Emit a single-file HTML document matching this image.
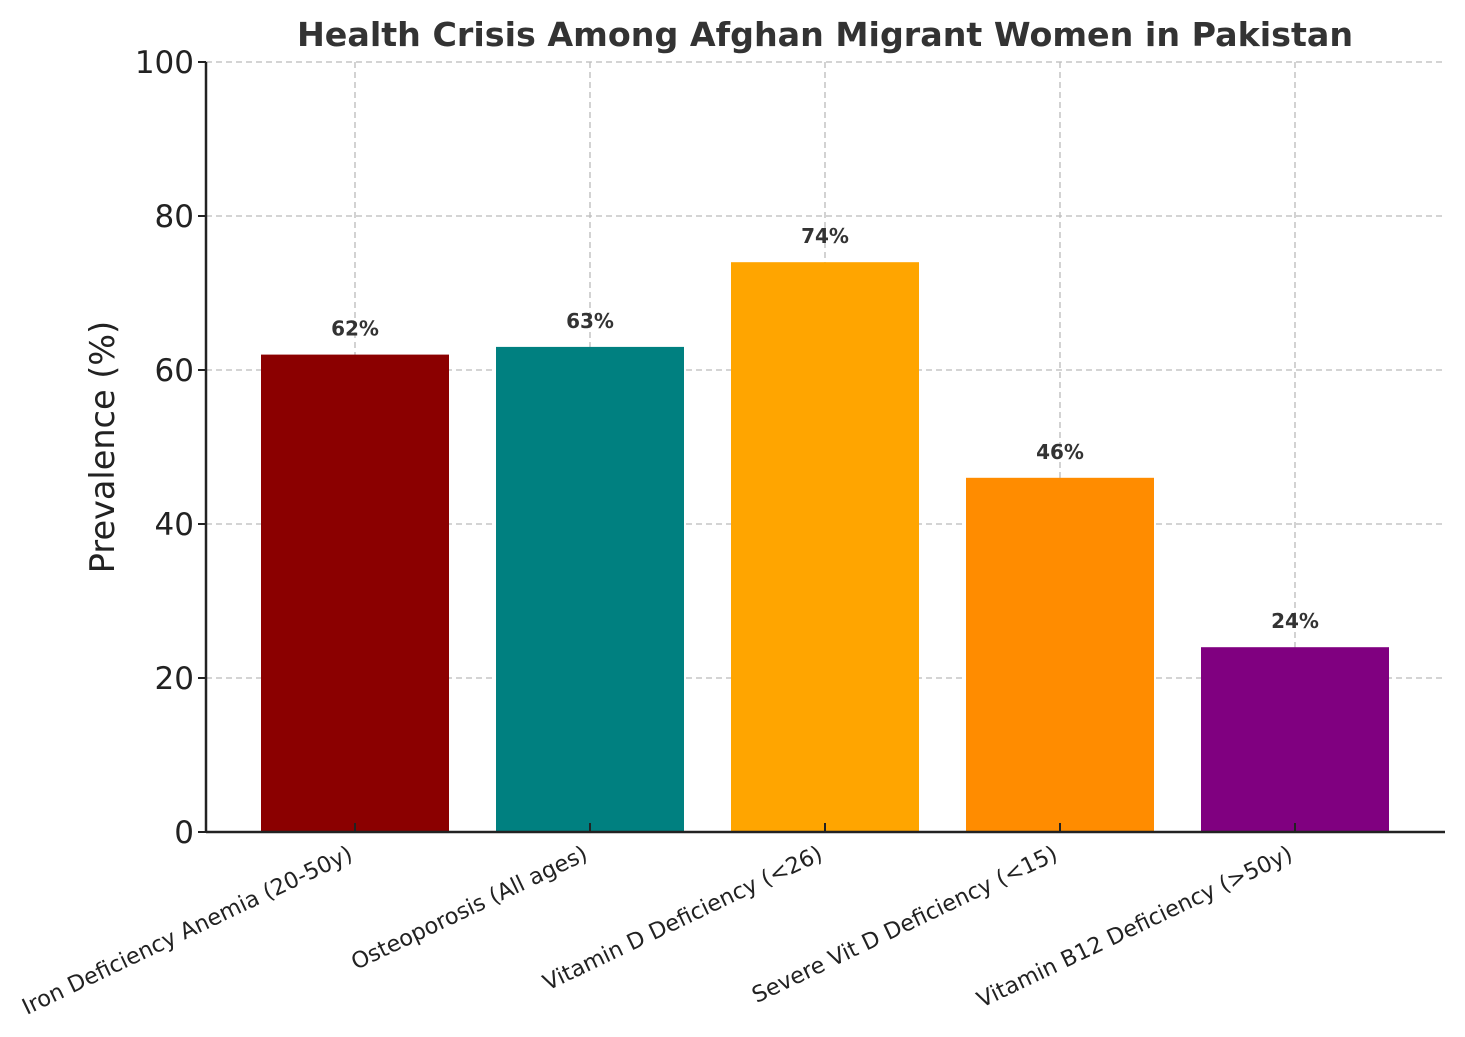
<!DOCTYPE html>
<html><head><meta charset="utf-8"><style>
body{margin:0;background:#fff}
svg text{font-family:"DejaVu Sans","Liberation Sans",sans-serif}
</style></head><body>
<svg id="chart" width="1465" height="1032" viewBox="0 0 1465 1032" xmlns="http://www.w3.org/2000/svg">
<rect width="1465" height="1032" fill="#fff"/>
<text x="825" y="46" text-anchor="middle" font-size="33.3" font-weight="bold" fill="#333">Health Crisis Among Afghan Migrant Women in Pakistan</text>
<text transform="translate(114,447) rotate(-90)" text-anchor="middle" font-size="33.5" fill="#222">Prevalence (%)</text>
<g id="grid"></g><g id="bars"></g><g id="axes"></g>
</svg>
<script>
const categories=["Iron Deficiency Anemia (20-50y)","Osteoporosis (All ages)","Vitamin D Deficiency (<26)","Severe Vit D Deficiency (<15)","Vitamin B12 Deficiency (>50y)"];
const values=[62,63,74,46,24];
const colors=["#8b0000","#008080","#ffa500","#ff8c00","#800080"];
const yTicks=[0,20,40,60,80,100];
const NS="http://www.w3.org/2000/svg";
const L=206,R=1445,T=62,B=832;
const y=v=>B-(v/100)*(B-T);
const x=i=>355+i*235;
const bw=188;
function mk(tag,attrs,parent,txt){const e=document.createElementNS(NS,tag);for(const k in attrs)e.setAttribute(k,attrs[k]);if(txt!==undefined)e.textContent=txt;parent.appendChild(e);return e;}
const grid=document.getElementById('grid'),bars=document.getElementById('bars'),axes=document.getElementById('axes');
yTicks.forEach(t=>{
  const g=mk('line',{x1:L,x2:R,y1:y(t),y2:y(t),stroke:'#bbb','stroke-width':1.3,'stroke-dasharray':'6,4'},grid);
  
  
  const tk=mk('line',{x1:L-8,x2:L,y1:y(t),y2:y(t),stroke:'#222','stroke-width':2},axes);
  
  
  const lb=mk('text',{x:L-12,y:y(t)+11,'text-anchor':'end','font-size':31,fill:'#222'},axes,t);
  
  
});
categories.forEach((c,i)=>{
  const b=mk('rect',{x:x(i)-bw/2,y:y(values[i]),width:bw,height:B-y(values[i]),fill:colors[i]},bars);
  
  
  const g=mk('line',{x1:x(i),x2:x(i),y1:T,y2:B,stroke:'#bbb','stroke-width':1.3,'stroke-dasharray':'6,4'},grid);
  
  
  const vl=mk('text',{x:x(i),y:y(values[i])-19,'text-anchor':'middle','font-size':20,'font-weight':'bold',fill:'#333'},bars,values[i]+'%');
  
  
  const tk=mk('line',{x1:x(i),x2:x(i),y1:B-9,y2:B,stroke:'#222','stroke-width':2},axes);
  
  
  const lb=mk('text',{transform:`translate(${x(i)-1},${B+27}) rotate(-25.5)`,'text-anchor':'end','font-size':22.4,fill:'#222'},axes,c);
  
  
});
const sl=mk('line',{x1:L,x2:L,y1:T,y2:B+1,stroke:'#222','stroke-width':2.5},axes);


const sb=mk('line',{x1:L,x2:R,y1:B,y2:B,stroke:'#222','stroke-width':2.5},axes);


</script>
</body></html>
